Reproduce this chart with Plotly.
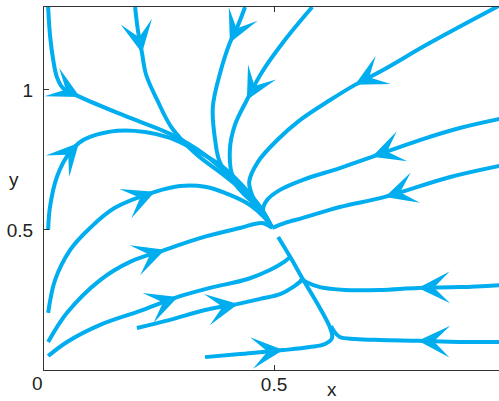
import plotly.graph_objects as go

COLOR = '#00AEEF'
AXIS = '#333333'
FONT = 'Liberation Sans, Arial, Helvetica, sans-serif'

# ---- streamline data (data units) ----
c1_x = [0.009, 0.013, 0.020, 0.028, 0.041, 0.078, 0.176, 0.274, 0.350, 0.411, 0.459, 0.496]
c1_y = [1.296, 1.196, 1.107, 1.046, 1.007, 0.975, 0.907, 0.843, 0.768, 0.679, 0.596, 0.507]

c2_x = [0.198, 0.204, 0.213, 0.222, 0.246, 0.278, 0.328, 0.393, 0.448, 0.480, 0.496]
c2_y = [1.296, 1.214, 1.132, 1.054, 0.964, 0.864, 0.775, 0.693, 0.618, 0.554, 0.507]

c3_x = [0.437, 0.422, 0.404, 0.383, 0.367, 0.372, 0.383, 0.426, 0.463, 0.496]
c3_y = [1.296, 1.232, 1.168, 1.061, 0.939, 0.821, 0.739, 0.643, 0.582, 0.507]

c4_x = [0.583, 0.524, 0.474, 0.441, 0.415, 0.404, 0.411, 0.441, 0.474, 0.496]
c4_y = [1.296, 1.179, 1.064, 0.964, 0.875, 0.786, 0.689, 0.636, 0.571, 0.507]

c5_x = [1.000, 0.839, 0.737, 0.676, 0.622, 0.557, 0.507, 0.465, 0.446, 0.454, 0.474, 0.496]
c5_y = [1.310, 1.168, 1.071, 1.018, 0.964, 0.893, 0.821, 0.743, 0.671, 0.618, 0.564, 0.507]

c6_x = [1.000, 0.904, 0.817, 0.713, 0.643, 0.563, 0.513, 0.485, 0.476, 0.485, 0.496]
c6_y = [0.900, 0.864, 0.821, 0.761, 0.721, 0.679, 0.643, 0.607, 0.571, 0.536, 0.507]

c7_x = [1.000, 0.883, 0.741, 0.643, 0.563, 0.524, 0.496]
c7_y = [0.732, 0.689, 0.618, 0.582, 0.543, 0.525, 0.507]

c8_x = [0.009, 0.013, 0.028, 0.052, 0.076, 0.100, 0.159, 0.220, 0.274, 0.328, 0.383, 0.430, 0.470, 0.496]
c8_y = [0.500, 0.582, 0.689, 0.768, 0.811, 0.832, 0.854, 0.850, 0.829, 0.786, 0.732, 0.661, 0.582, 0.507]

c9_x = [0.009, 0.024, 0.057, 0.100, 0.154, 0.241, 0.296, 0.350, 0.404, 0.448, 0.480, 0.496]
c9_y = [0.204, 0.321, 0.429, 0.507, 0.579, 0.636, 0.657, 0.654, 0.625, 0.589, 0.543, 0.507]

c10_x = [0.009, 0.050, 0.122, 0.187, 0.263, 0.339, 0.426, 0.474, 0.496]
c10_y = [0.100, 0.204, 0.321, 0.386, 0.429, 0.471, 0.507, 0.525, 0.507]

c11_x = [0.009, 0.050, 0.122, 0.209, 0.291, 0.361, 0.443, 0.491, 0.522, 0.535]
c11_y = [0.050, 0.100, 0.161, 0.211, 0.261, 0.293, 0.325, 0.357, 0.386, 0.404]

c12_x = [0.202, 0.274, 0.350, 0.422, 0.470, 0.513, 0.541, 0.561]
c12_y = [0.150, 0.179, 0.214, 0.236, 0.254, 0.271, 0.296, 0.321]

c13_x = [0.350, 0.426, 0.520, 0.578, 0.611, 0.626, 0.622, 0.596, 0.565, 0.535, 0.509]
c13_y = [0.046, 0.057, 0.071, 0.082, 0.093, 0.114, 0.150, 0.232, 0.318, 0.404, 0.475]

c14_x = [1.000, 0.904, 0.813, 0.730, 0.654, 0.600, 0.570, 0.557]
c14_y = [0.304, 0.296, 0.293, 0.286, 0.286, 0.296, 0.314, 0.329]

c15_x = [1.000, 0.904, 0.813, 0.730, 0.676, 0.643, 0.630, 0.624]
c15_y = [0.100, 0.100, 0.104, 0.107, 0.111, 0.118, 0.139, 0.157]

# index of the point carrying the arrowhead on each curve
arrow_at = [5, 2, 2, 3, 3, 3, 2, 4, 5, 4, 4, 3, 2, 2, 2]

curves = [(c1_x, c1_y), (c2_x, c2_y), (c3_x, c3_y), (c4_x, c4_y), (c5_x, c5_y),
          (c6_x, c6_y), (c7_x, c7_y), (c8_x, c8_y), (c9_x, c9_y), (c10_x, c10_y),
          (c11_x, c11_y), (c12_x, c12_y), (c13_x, c13_y), (c14_x, c14_y), (c15_x, c15_y)]

x_ticks = [0.5]
x_ticklabels = ['0.5']
y_ticks = [0.5, 1.0]
y_ticklabels = ['0.5', '1']

fig = go.Figure()
for (cx, cy), ai in zip(curves, arrow_at):
    fig.add_trace(go.Scatter(
        x=cx, y=cy, mode='lines',
        line=dict(color=COLOR, width=4, shape='spline', smoothing=1.0),
        hoverinfo='skip', showlegend=False))
    fig.add_annotation(
        x=cx[ai], y=cy[ai], ax=cx[ai - 1], ay=cy[ai - 1],
        xref='x', yref='y', axref='x', ayref='y',
        text='', showarrow=True, arrowhead=3, arrowsize=5.3, arrowwidth=1,
        arrowcolor=COLOR, standoff=0)

# origin label and axis titles
fig.add_annotation(x=0, y=0, xref='x', yref='paper', text='0', showarrow=False,
                   xshift=-7, yshift=-1, yanchor='top', xanchor='center',
                   font=dict(family=FONT, size=19, color='#222'))
fig.add_annotation(x=-0.066, y=0.679, xref='paper', yref='y', text='y', showarrow=False,
                   xanchor='center', yanchor='middle',
                   font=dict(family=FONT, size=19, color='#222'))
fig.add_annotation(x=0.626, y=-0.055, xref='x', yref='paper', text='x', showarrow=False,
                   xanchor='center', yanchor='middle',
                   font=dict(family=FONT, size=19, color='#222'))

fig.update_layout(
    width=499, height=401,
    margin=dict(l=44, r=0, t=7, b=31),
    paper_bgcolor='white', plot_bgcolor='white',
    font=dict(family=FONT, size=19, color='#222'),
    xaxis=dict(range=[0, 0.989], showgrid=False, zeroline=False,
               showline=True, linecolor=AXIS, linewidth=1, mirror='ticks',
               ticks='inside', ticklen=5, tickcolor=AXIS,
               tickvals=x_ticks, ticktext=x_ticklabels, ticklabelstandoff=-3),
    yaxis=dict(range=[0, 1.296], showgrid=False, zeroline=False,
               showline=True, linecolor=AXIS, linewidth=1, mirror=False,
               ticks='inside', ticklen=5, tickcolor=AXIS,
               tickvals=y_ticks, ticktext=y_ticklabels, ticklabelstandoff=6),
)

fig.write_html('out.html', config={'displayModeBar': False},
               post_script="document.body.style.margin='0';document.body.style.overflow='hidden';")
